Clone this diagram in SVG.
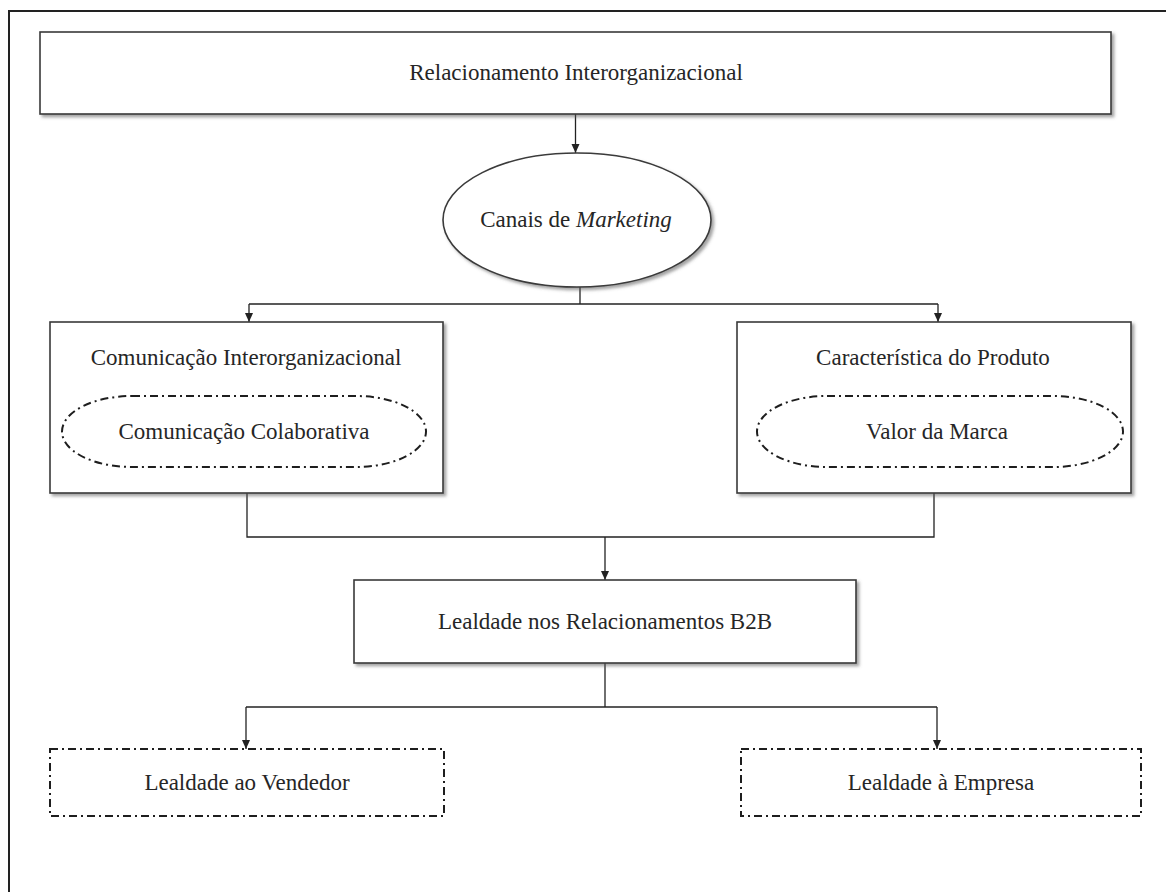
<svg xmlns="http://www.w3.org/2000/svg" width="1166" height="892" viewBox="0 0 1166 892">
  <style>
    .box { fill: #ffffff; stroke: #3a3a3a; stroke-width: 1.6; filter: url(#shadow); }
    .dash { fill: none; stroke: #1e1e1e; stroke-width: 2; stroke-dasharray: 8 4 2 4; }
    .dashbox { fill: #ffffff; stroke: #1e1e1e; stroke-width: 2; stroke-dasharray: 8 4 2 4; }
    .lbl { font-family: "Liberation Serif", "Times New Roman", serif; font-size: 23px; fill: #262626; text-anchor: middle; }
    .wire { fill: none; stroke: #222222; stroke-width: 1.3; }
  </style>
  <defs>
    <filter id="shadow" x="-5%" y="-5%" width="115%" height="130%">
      <feDropShadow dx="2.5" dy="2.5" stdDeviation="1.6" flood-color="#555555" flood-opacity="0.55"/>
    </filter>
    <marker id="arrow" markerWidth="10" markerHeight="10" refX="9" refY="5" orient="auto" markerUnits="userSpaceOnUse">
      <path d="M0,1 L9,5 L0,9 Z" fill="#222222"/>
    </marker>
  </defs>

  <rect width="1166" height="892" fill="#ffffff"/>
  <!-- outer frame -->
  <rect x="9" y="11" width="1180" height="900" fill="none" stroke="#222222" stroke-width="2"/>

  <g id="connectors">
    <line class="wire" x1="575.5" y1="114" x2="575.5" y2="153" marker-end="url(#arrow)"/>
    <line class="wire" x1="580" y1="287" x2="580" y2="304"/>
    <polyline class="wire" points="249,304 938,304"/>
    <line class="wire" x1="249" y1="304" x2="249" y2="322" marker-end="url(#arrow)"/>
    <line class="wire" x1="938" y1="304" x2="938" y2="322" marker-end="url(#arrow)"/>
    <polyline class="wire" points="247,493 247,537 934,537 934,493"/>
    <line class="wire" x1="605" y1="537" x2="605" y2="580" marker-end="url(#arrow)"/>
    <line class="wire" x1="605" y1="663" x2="605" y2="707"/>
    <polyline class="wire" points="246,707 937,707"/>
    <line class="wire" x1="246" y1="707" x2="246" y2="749" marker-end="url(#arrow)"/>
    <line class="wire" x1="937" y1="707" x2="937" y2="749" marker-end="url(#arrow)"/>
  </g>

  <g id="relacionamento">
    <rect class="box" x="40" y="32" width="1071" height="82"/>
    <text class="lbl" x="576" y="80">Relacionamento Interorganizacional</text>
  </g>

  <g id="canais">
    <ellipse cx="577" cy="220" rx="134" ry="67" fill="#ffffff" stroke="#3a3a3a" stroke-width="1.6" filter="url(#shadow)"/>
    <text class="lbl" x="576" y="227">Canais de <tspan font-style="italic">Marketing</tspan></text>
  </g>

  <g id="comunicacao">
    <rect class="box" x="50" y="322" width="393" height="171"/>
    <text class="lbl" x="246" y="365">Comunicação Interorganizacional</text>
    <rect class="dash" x="62" y="396" width="364" height="71" rx="70" ry="35.5"/>
    <text class="lbl" x="244" y="439">Comunicação Colaborativa</text>
  </g>

  <g id="produto">
    <rect class="box" x="737" y="322" width="394" height="171"/>
    <text class="lbl" x="933" y="365">Característica do Produto</text>
    <rect class="dash" x="757" y="396" width="366" height="71" rx="70" ry="35.5"/>
    <text class="lbl" x="937" y="439">Valor da Marca</text>
  </g>

  <g id="lealdade-b2b">
    <rect class="box" x="354" y="580" width="502" height="83"/>
    <text class="lbl" x="605" y="629">Lealdade nos Relacionamentos B2B</text>
  </g>

  <g id="lealdade-vendedor">
    <rect class="dashbox" x="50" y="749" width="394" height="67"/>
    <text class="lbl" x="247" y="790">Lealdade ao Vendedor</text>
  </g>

  <g id="lealdade-empresa">
    <rect class="dashbox" x="741" y="749" width="400" height="67"/>
    <text class="lbl" x="941" y="790">Lealdade à Empresa</text>
  </g>
</svg>
